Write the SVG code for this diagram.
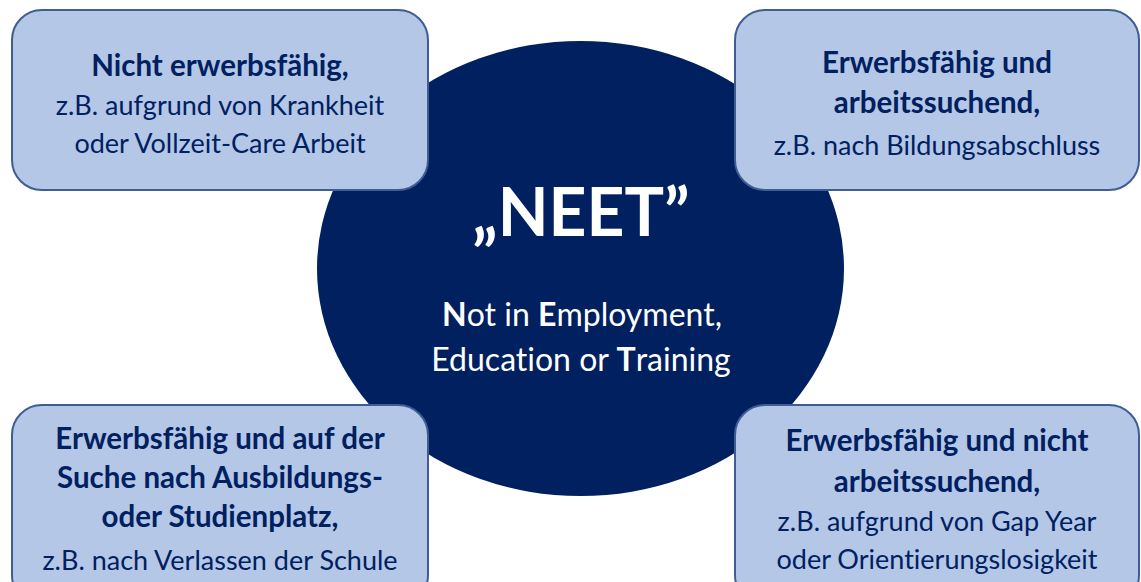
<svg xmlns="http://www.w3.org/2000/svg" width="1141" height="582" viewBox="0 0 1141 582">
<style>
.box{fill:#b4c7e7;stroke:#3d5d93;stroke-width:2}
.t{font-family:Lato,"Open Sans","Liberation Sans",sans-serif;fill:#002060;text-anchor:middle;font-size:27px;font-variant-ligatures:none}
.b{font-weight:bold;font-size:29.5px}
.w{font-family:Lato,"Open Sans","Liberation Sans",sans-serif;fill:#ffffff;text-anchor:middle;font-variant-ligatures:none}
</style>
<rect width="1141" height="582" fill="#ffffff"/>
<g id="connectors"></g>
<g id="neet">
<ellipse cx="580.5" cy="268.5" rx="263.5" ry="227.5" fill="#002060"/>
<text class="w" x="581" y="236" font-size="66" font-weight="bold">„NEET”</text>
<text class="w" x="582" y="326" font-size="32"><tspan font-weight="bold">N</tspan>ot in <tspan font-weight="bold">E</tspan>mployment,</text>
<text class="w" x="581" y="371" font-size="32">Education or <tspan font-weight="bold">T</tspan>raining</text>
</g>
<g id="nicht-erwerbsfaehig">
<rect class="box" x="12" y="10" width="416" height="180" rx="30"/>
<text class="t b" x="220" y="76">Nicht erwerbsfähig,</text>
<text class="t" x="220" y="115">z.B. aufgrund von Krankheit</text>
<text class="t" x="220" y="153">oder Vollzeit-Care Arbeit</text>
</g>
<g id="arbeitssuchend">
<rect class="box" x="735" y="10" width="404" height="180" rx="30"/>
<text class="t b" x="937" y="73">Erwerbsfähig und</text>
<text class="t b" x="937" y="113">arbeitssuchend,</text>
<text class="t" x="937" y="155">z.B. nach Bildungsabschluss</text>
</g>
<g id="ausbildung">
<rect class="box" x="12" y="405" width="416" height="200" rx="30"/>
<text class="t b" x="220" y="449">Erwerbsfähig und auf der</text>
<text class="t b" x="220" y="488">Suche nach Ausbildungs-</text>
<text class="t b" x="220" y="527">oder Studienplatz,</text>
<text class="t" x="220" y="570">z.B. nach Verlassen der Schule</text>
</g>
<g id="nicht-arbeitssuchend">
<rect class="box" x="735" y="405" width="404" height="200" rx="30"/>
<text class="t b" x="937" y="451">Erwerbsfähig und nicht</text>
<text class="t b" x="937" y="492">arbeitssuchend,</text>
<text class="t" x="937" y="531">z.B. aufgrund von Gap Year</text>
<text class="t" x="937" y="569">oder Orientierungslosigkeit</text>
</g>
</svg>
